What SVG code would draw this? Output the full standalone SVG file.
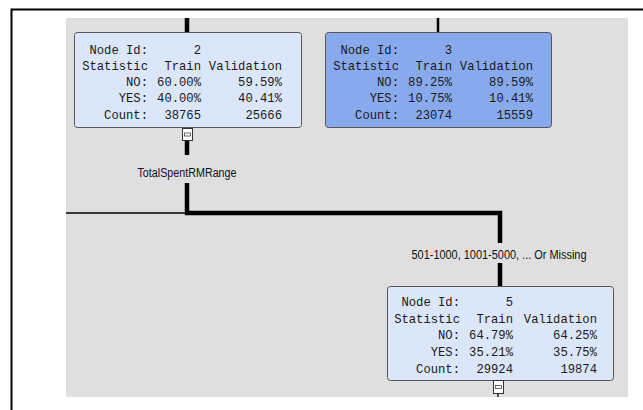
<svg xmlns="http://www.w3.org/2000/svg" width="643" height="410" viewBox="0 0 643 410">
<style>
.node{stroke:#555;stroke-width:1}
.light{fill:#dbe6f8}
.dark{fill:#88aaec}
.mono{font-family:"Liberation Mono","DejaVu Sans Mono",monospace;font-size:12.2px;fill:#1a1a1a;text-anchor:end}
.lbl{font-family:"Liberation Sans",Arial,sans-serif;font-size:12px;fill:#111;text-anchor:middle}
.thick{stroke:#000;stroke-width:4.5;fill:none}
.thin{stroke:#000;stroke-width:1.3;fill:none}
.tog{fill:#fff;stroke:#333;stroke-width:1}
</style>
<rect x="0" y="0" width="643" height="410" fill="#fff"/>
<path d="M11.5 410 V9.5 H643" fill="none" stroke="#000" stroke-width="2"/>
<rect x="66" y="18" width="562" height="379" fill="#dfdfdf"/>
<g id="connectors">
<line class="thick" x1="187" y1="18" x2="187" y2="32"/>
<line x1="438" y1="18" x2="438" y2="32" stroke="#000" stroke-width="2.5"/>
<line class="thick" x1="187" y1="141" x2="187" y2="155"/>
<line class="thin" x1="66" y1="213" x2="187" y2="213"/>
<path class="thick" d="M187 183 V213 H500 V243"/>
<line class="thick" x1="500" y1="263" x2="500" y2="286"/>
<line class="thin" x1="498" y1="393" x2="498" y2="397"/>
<text class="lbl" x="187" y="177" textLength="99" lengthAdjust="spacingAndGlyphs">TotalSpentRMRange</text>
<text class="lbl" x="499" y="259" textLength="175" lengthAdjust="spacingAndGlyphs">501-1000, 1001-5000, ... Or Missing</text>
</g>
<g id="node2">
<rect class="node light" x="74.5" y="32.5" width="227" height="95" rx="3"/>
<text class="mono" x="148" y="54">Node Id:</text><text class="mono" x="201" y="54">2</text>
<text class="mono" x="148" y="70">Statistic</text><text class="mono" x="201" y="70">Train</text><text class="mono" x="282" y="70">Validation</text>
<text class="mono" x="148" y="86">NO:</text><text class="mono" x="201" y="86">60.00%</text><text class="mono" x="282" y="86">59.59%</text>
<text class="mono" x="148" y="102">YES:</text><text class="mono" x="201" y="102">40.00%</text><text class="mono" x="282" y="102">40.41%</text>
<text class="mono" x="148" y="119">Count:</text><text class="mono" x="201" y="119">38765</text><text class="mono" x="282" y="119">25666</text>
<rect class="tog" x="182.5" y="128.5" width="10" height="12"/>
<rect x="184.5" y="133" width="6" height="3" fill="none" stroke="#444" stroke-width="0.8"/>
</g>
<g id="node3">
<rect class="node dark" x="325.5" y="32.5" width="226" height="95" rx="3"/>
<text class="mono" x="399" y="54">Node Id:</text><text class="mono" x="452" y="54">3</text>
<text class="mono" x="399" y="70">Statistic</text><text class="mono" x="452" y="70">Train</text><text class="mono" x="533" y="70">Validation</text>
<text class="mono" x="399" y="86">NO:</text><text class="mono" x="452" y="86">89.25%</text><text class="mono" x="533" y="86">89.59%</text>
<text class="mono" x="399" y="102">YES:</text><text class="mono" x="452" y="102">10.75%</text><text class="mono" x="533" y="102">10.41%</text>
<text class="mono" x="399" y="119">Count:</text><text class="mono" x="452" y="119">23074</text><text class="mono" x="533" y="119">15559</text>
</g>
<g id="node5">
<rect class="node light" x="387.5" y="286.5" width="226" height="94" rx="3"/>
<text class="mono" x="460" y="306">Node Id:</text><text class="mono" x="513" y="306">5</text>
<text class="mono" x="460" y="322.5">Statistic</text><text class="mono" x="513" y="322.5">Train</text><text class="mono" x="597" y="322.5">Validation</text>
<text class="mono" x="460" y="339">NO:</text><text class="mono" x="513" y="339">64.79%</text><text class="mono" x="597" y="339">64.25%</text>
<text class="mono" x="460" y="356">YES:</text><text class="mono" x="513" y="356">35.21%</text><text class="mono" x="597" y="356">35.75%</text>
<text class="mono" x="460" y="373">Count:</text><text class="mono" x="513" y="373">29924</text><text class="mono" x="597" y="373">19874</text>
<rect class="tog" x="493.5" y="380.5" width="10" height="13"/>
<rect x="495.5" y="385.5" width="6" height="3" fill="none" stroke="#444" stroke-width="0.8"/>
</g>
</svg>
